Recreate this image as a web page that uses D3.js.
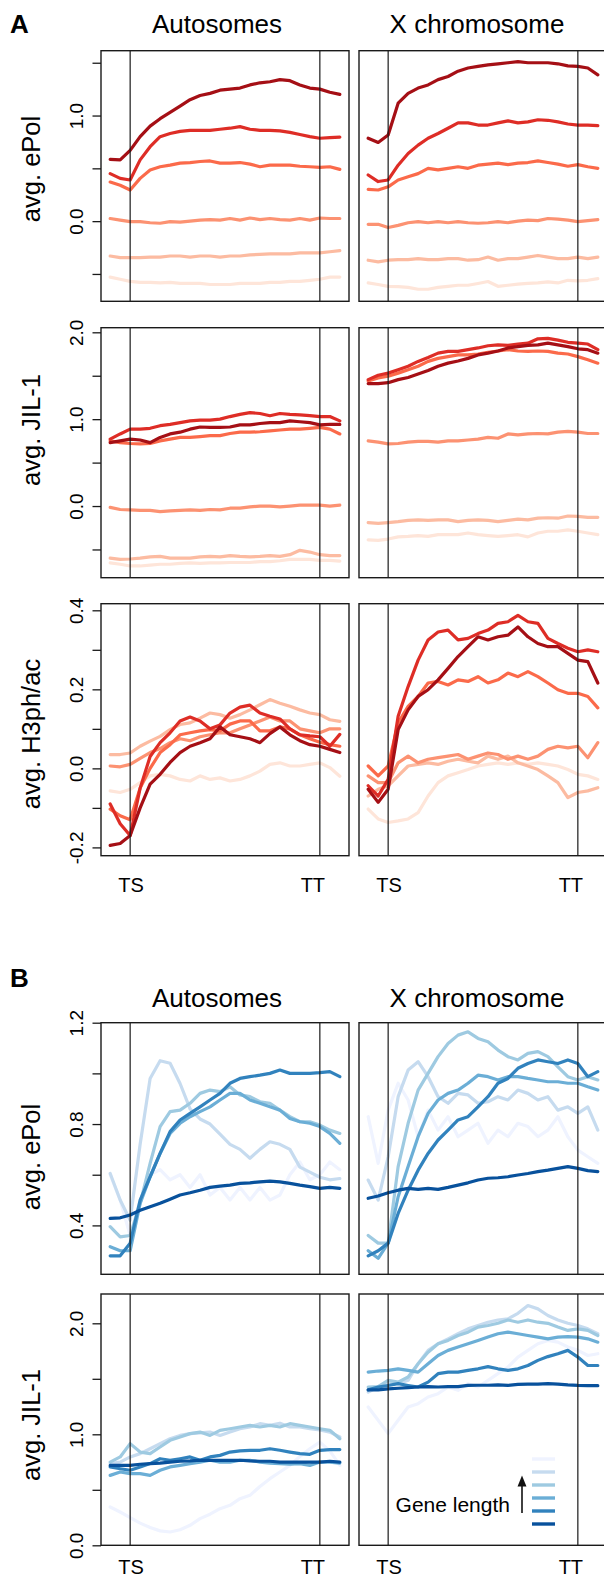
<!DOCTYPE html>
<html lang="en">
<head>
<meta charset="UTF-8">
<title>ePol / JIL-1 / H3ph-ac profiles</title>
<script src="https://cdn.jsdelivr.net/npm/d3@7"></script>
<style>
  body { margin: 0; background: #fff; }
  svg { display: block; font-family: "Liberation Sans", Arial, Helvetica, sans-serif; }
</style>
</head>
<body>
<div id="chart"></div>
<script>
// metagene bins: 0-1 upstream, 2 = TS, 21 = TT, 22-23 downstream
const bins = [0,1,2,3,4,5,6,7,8,9,10,11,12,13,14,15,16,17,18,19,20,21,22,23];
const tsBin = 2, ttBin = 21;

const reds  = ["#FEE5D9","#FCBBA1","#FC9272","#FB6A4A","#DE2D26","#A50F15"];
const blues = ["#EFF3FF","#C6DBEF","#9ECAE1","#6BAED6","#3182BD","#08519C"];

const columnTitles = ["Autosomes", "X chromosome"];

// ---- panel A: ePol (series ordered lightest -> darkest)
const ePolAutoA = [
  [-0.53,-0.55,-0.57,-0.58,-0.58,-0.585,-0.58,-0.59,-0.59,-0.59,-0.60,-0.60,-0.60,-0.59,-0.59,-0.59,-0.58,-0.58,-0.57,-0.57,-0.56,-0.55,-0.53,-0.53],
  [-0.33,-0.345,-0.345,-0.345,-0.34,-0.34,-0.33,-0.33,-0.34,-0.33,-0.33,-0.34,-0.33,-0.33,-0.32,-0.315,-0.31,-0.31,-0.31,-0.30,-0.30,-0.30,-0.29,-0.28],
  [0.025,0.01,-0.005,-0.005,-0.015,-0.02,-0.005,-0.01,0,0.01,0.015,0.01,0.025,0.01,0.03,0.015,0.025,0.015,0.01,0.025,0.01,0.03,0.025,0.025],
  [0.37,0.34,0.295,0.405,0.485,0.515,0.53,0.55,0.555,0.565,0.57,0.55,0.55,0.555,0.54,0.515,0.53,0.53,0.53,0.52,0.515,0.51,0.515,0.49],
  [0.45,0.405,0.39,0.58,0.705,0.80,0.83,0.85,0.86,0.86,0.86,0.87,0.88,0.895,0.87,0.86,0.86,0.855,0.84,0.82,0.80,0.785,0.79,0.795],
  [0.585,0.58,0.67,0.80,0.90,0.97,1.03,1.09,1.15,1.19,1.21,1.24,1.25,1.26,1.29,1.31,1.32,1.34,1.33,1.29,1.26,1.25,1.22,1.20]
];
const ePolXA = [
  [-0.585,-0.60,-0.617,-0.62,-0.627,-0.645,-0.645,-0.627,-0.617,-0.607,-0.607,-0.59,-0.572,-0.617,-0.607,-0.597,-0.59,-0.585,-0.575,-0.585,-0.56,-0.565,-0.56,-0.545],
  [-0.37,-0.385,-0.37,-0.365,-0.365,-0.355,-0.365,-0.365,-0.355,-0.355,-0.37,-0.365,-0.34,-0.37,-0.355,-0.355,-0.34,-0.325,-0.34,-0.355,-0.355,-0.34,-0.355,-0.34],
  [-0.03,-0.03,-0.06,-0.04,-0.015,-0.005,-0.015,-0.005,-0.015,-0.005,-0.015,-0.02,-0.015,-0.005,-0.015,0,0.01,0.005,0.025,0.02,0.01,-0.005,0.005,0.015],
  [0.30,0.295,0.325,0.39,0.42,0.45,0.50,0.485,0.50,0.515,0.50,0.53,0.54,0.55,0.535,0.55,0.555,0.57,0.555,0.54,0.52,0.535,0.515,0.50],
  [0.437,0.375,0.39,0.53,0.64,0.72,0.785,0.83,0.88,0.93,0.93,0.91,0.91,0.93,0.95,0.93,0.94,0.96,0.955,0.94,0.92,0.91,0.91,0.905],
  [0.785,0.745,0.815,1.117,1.21,1.26,1.29,1.34,1.37,1.42,1.45,1.465,1.48,1.49,1.50,1.51,1.50,1.50,1.50,1.49,1.47,1.465,1.45,1.385]
];

// ---- panel A: JIL-1
const jilAutoA = [
  [-0.655,-0.67,-0.69,-0.69,-0.68,-0.67,-0.67,-0.66,-0.655,-0.66,-0.655,-0.655,-0.65,-0.65,-0.65,-0.64,-0.64,-0.63,-0.615,-0.615,-0.615,-0.625,-0.625,-0.635],
  [-0.60,-0.615,-0.61,-0.60,-0.585,-0.58,-0.60,-0.60,-0.60,-0.585,-0.58,-0.585,-0.57,-0.58,-0.585,-0.58,-0.57,-0.58,-0.56,-0.51,-0.53,-0.56,-0.57,-0.57],
  [-0.015,-0.04,-0.045,-0.05,-0.05,-0.065,-0.055,-0.05,-0.045,-0.05,-0.04,-0.045,-0.025,-0.025,-0.01,0,0,-0.01,0,0.01,0.01,0.01,0,0.01],
  [0.75,0.73,0.72,0.715,0.72,0.75,0.77,0.79,0.79,0.80,0.81,0.81,0.835,0.85,0.85,0.855,0.865,0.875,0.885,0.885,0.895,0.905,0.885,0.83],
  [0.77,0.83,0.885,0.885,0.895,0.925,0.94,0.96,0.98,0.99,0.99,1.0,1.03,1.055,1.075,1.065,1.04,1.065,1.055,1.05,1.04,1.03,1.03,0.98],
  [0.73,0.75,0.77,0.76,0.73,0.79,0.83,0.85,0.885,0.91,0.905,0.905,0.91,0.935,0.935,0.95,0.96,0.96,0.98,0.97,0.96,0.935,0.94,0.94]
];
const jilXA = [
  [-0.39,-0.395,-0.38,-0.355,-0.35,-0.34,-0.35,-0.33,-0.33,-0.33,-0.31,-0.33,-0.34,-0.35,-0.34,-0.33,-0.355,-0.31,-0.29,-0.29,-0.275,-0.29,-0.31,-0.33],
  [-0.19,-0.2,-0.19,-0.18,-0.165,-0.16,-0.165,-0.16,-0.16,-0.18,-0.165,-0.16,-0.165,-0.18,-0.165,-0.15,-0.16,-0.14,-0.135,-0.14,-0.115,-0.12,-0.13,-0.13],
  [0.75,0.735,0.715,0.72,0.735,0.745,0.745,0.735,0.75,0.75,0.76,0.77,0.79,0.78,0.83,0.82,0.83,0.835,0.83,0.85,0.86,0.85,0.835,0.835],
  [1.44,1.475,1.495,1.53,1.57,1.61,1.665,1.70,1.72,1.74,1.74,1.75,1.77,1.785,1.80,1.785,1.78,1.785,1.78,1.76,1.75,1.72,1.685,1.645],
  [1.455,1.505,1.53,1.57,1.61,1.665,1.71,1.76,1.78,1.78,1.80,1.82,1.845,1.855,1.85,1.865,1.875,1.925,1.93,1.91,1.885,1.875,1.865,1.80],
  [1.41,1.41,1.42,1.455,1.48,1.52,1.56,1.61,1.645,1.67,1.70,1.74,1.76,1.785,1.82,1.835,1.85,1.855,1.875,1.855,1.835,1.81,1.80,1.76]
];

// ---- panel A: H3ph/ac
const h3AutoA = [
  [-0.057,-0.061,-0.053,-0.036,-0.019,-0.015,-0.019,-0.028,-0.032,-0.019,-0.028,-0.024,-0.032,-0.028,-0.019,-0.007,0.01,0.014,0.006,0.006,0.01,0.014,0.002,-0.02],
  [0.035,0.035,0.039,0.056,0.069,0.081,0.098,0.111,0.115,0.127,0.14,0.136,0.127,0.136,0.148,0.161,0.174,0.165,0.157,0.148,0.14,0.136,0.123,0.119],
  [0.006,0.004,0.01,0.025,0.04,0.05,0.065,0.075,0.07,0.08,0.085,0.09,0.09,0.1,0.11,0.12,0.13,0.12,0.12,0.1,0.095,0.09,0.1,0.1],
  [-0.103,-0.12,-0.13,-0.05,0.0,0.04,0.06,0.085,0.09,0.095,0.098,0.095,0.112,0.12,0.12,0.095,0.095,0.105,0.1,0.085,0.075,0.066,0.06,0.056],
  [-0.09,-0.14,-0.17,-0.05,0.03,0.065,0.09,0.12,0.13,0.12,0.1,0.11,0.14,0.155,0.16,0.14,0.132,0.125,0.1,0.085,0.082,0.08,0.056,0.086],
  [-0.195,-0.19,-0.17,-0.1,-0.04,-0.015,0.015,0.04,0.056,0.065,0.075,0.105,0.085,0.08,0.075,0.065,0.088,0.105,0.085,0.07,0.06,0.056,0.048,0.04]
];
const h3XA = [
  [-0.103,-0.128,-0.137,-0.133,-0.128,-0.112,-0.07,-0.036,-0.019,-0.011,-0.003,0.006,0.01,0.014,0.01,0.014,0.01,0.014,0.01,0.006,-0.003,-0.015,-0.019,-0.028],
  [-0.07,-0.053,-0.044,-0.019,0.006,0.01,0.014,0.01,0.018,0.023,0.018,0.014,0.031,0.023,0.031,0.014,0.006,-0.003,-0.019,-0.036,-0.074,-0.061,-0.057,-0.049],
  [-0.019,-0.036,-0.036,0.014,0.031,0.014,0.023,0.027,0.031,0.035,0.023,0.031,0.039,0.035,0.023,0.031,0.023,0.031,0.048,0.056,0.052,0.056,0.027,0.065],
  [0.006,-0.019,0.006,0.115,0.157,0.182,0.216,0.22,0.211,0.224,0.22,0.232,0.216,0.224,0.241,0.232,0.245,0.232,0.216,0.199,0.19,0.19,0.182,0.153],
  [-0.044,-0.07,-0.028,0.132,0.207,0.274,0.325,0.345,0.35,0.325,0.329,0.341,0.35,0.367,0.371,0.387,0.371,0.367,0.329,0.316,0.304,0.295,0.3,0.295],
  [-0.053,-0.086,-0.053,0.098,0.148,0.182,0.199,0.224,0.253,0.283,0.308,0.333,0.325,0.333,0.337,0.358,0.333,0.316,0.308,0.308,0.291,0.274,0.27,0.216]
];

// ---- panel B: ePol
const ePolAutoB = [
  [0.6,0.5,0.36,0.5,0.6,0.62,0.58,0.6,0.55,0.6,0.52,0.55,0.5,0.55,0.5,0.55,0.5,0.52,0.6,0.65,0.58,0.6,0.65,0.62],
  [0.605,0.5,0.42,0.72,0.98,1.05,1.04,0.96,0.86,0.82,0.8,0.76,0.72,0.7,0.665,0.7,0.73,0.72,0.7,0.63,0.61,0.59,0.58,0.585],
  [0.395,0.355,0.36,0.487,0.645,0.79,0.849,0.855,0.882,0.921,0.934,0.928,0.947,0.915,0.908,0.888,0.882,0.855,0.829,0.809,0.809,0.796,0.776,0.763],
  [0.316,0.30,0.30,0.487,0.592,0.684,0.763,0.803,0.829,0.849,0.868,0.895,0.921,0.921,0.895,0.882,0.868,0.855,0.822,0.809,0.803,0.79,0.763,0.724],
  [0.28,0.28,0.33,0.50,0.592,0.684,0.77,0.816,0.842,0.868,0.895,0.921,0.961,0.98,0.987,0.993,1.0,1.013,1.0,1.0,1.0,1.003,1.007,0.987],
  [0.428,0.43,0.441,0.46,0.474,0.487,0.503,0.52,0.529,0.539,0.55,0.555,0.559,0.566,0.568,0.572,0.575,0.572,0.566,0.559,0.553,0.546,0.55,0.546]
];
const ePolXB = [
  [0.829,0.645,0.855,0.961,0.895,0.75,0.855,0.776,0.829,0.75,0.776,0.803,0.724,0.776,0.75,0.803,0.79,0.75,0.776,0.829,0.75,0.697,0.671,0.645],
  [0.579,0.5,0.671,0.908,1.013,1.046,0.987,0.908,0.882,0.921,0.915,0.882,0.888,0.908,0.895,0.934,0.921,0.895,0.908,0.855,0.868,0.842,0.868,0.776],
  [0.36,0.33,0.33,0.632,0.803,0.934,1.0,1.066,1.118,1.151,1.164,1.138,1.125,1.092,1.066,1.053,1.079,1.086,1.066,1.026,0.987,0.974,0.987,0.974],
  [0.3,0.27,0.33,0.513,0.632,0.75,0.842,0.895,0.921,0.934,0.961,0.993,0.987,0.974,0.987,0.987,0.98,0.974,0.967,0.967,0.961,0.961,0.947,0.934],
  [0.28,0.3,0.33,0.447,0.539,0.618,0.684,0.737,0.776,0.816,0.829,0.868,0.908,0.961,0.98,1.02,1.039,1.053,1.046,1.039,1.053,1.039,0.987,1.007],
  [0.507,0.516,0.529,0.539,0.546,0.542,0.546,0.542,0.55,0.559,0.568,0.579,0.586,0.588,0.592,0.599,0.605,0.612,0.618,0.625,0.632,0.625,0.616,0.612]
];

// ---- panel B: JIL-1
const jilAutoB = [
  [0.345,0.3,0.25,0.2,0.16,0.13,0.12,0.14,0.18,0.24,0.28,0.33,0.36,0.42,0.45,0.53,0.6,0.66,0.72,0.8,0.87,0.93,0.85,0.72],
  [0.736,0.75,0.796,0.826,0.87,0.916,0.96,0.99,1.006,1.012,1.02,0.99,1.02,1.05,1.066,1.096,1.08,1.1,1.066,1.066,1.05,1.04,1.02,0.976],
  [0.75,0.796,0.916,0.84,0.826,0.886,0.946,0.976,1.006,1.02,0.99,1.036,1.05,1.066,1.08,1.066,1.08,1.066,1.096,1.08,1.066,1.05,1.036,0.96],
  [0.63,0.66,0.646,0.646,0.63,0.676,0.706,0.72,0.736,0.75,0.766,0.75,0.75,0.766,0.766,0.75,0.74,0.736,0.73,0.736,0.72,0.75,0.75,0.74],
  [0.706,0.69,0.676,0.706,0.736,0.78,0.766,0.78,0.796,0.766,0.796,0.81,0.84,0.85,0.856,0.856,0.87,0.856,0.84,0.826,0.82,0.856,0.862,0.862],
  [0.72,0.72,0.72,0.73,0.736,0.74,0.75,0.757,0.76,0.766,0.766,0.766,0.766,0.766,0.76,0.757,0.757,0.75,0.75,0.75,0.75,0.75,0.757,0.75]
];
const jilXB = [
  [1.246,1.126,1.006,1.126,1.246,1.276,1.336,1.366,1.426,1.396,1.456,1.426,1.486,1.546,1.606,1.696,1.756,1.816,1.846,1.83,1.786,1.756,1.71,1.726],
  [1.38,1.426,1.47,1.456,1.486,1.636,1.756,1.816,1.86,1.906,1.95,1.98,2.01,2.03,2.04,2.09,2.16,2.13,2.07,2.03,2.0,1.98,1.95,1.906],
  [1.426,1.43,1.486,1.47,1.516,1.636,1.74,1.816,1.846,1.89,1.92,1.966,1.98,2.0,2.03,2.01,2.03,2.01,2.0,1.966,1.936,1.95,1.936,1.89],
  [1.56,1.57,1.576,1.59,1.576,1.56,1.636,1.71,1.756,1.786,1.816,1.846,1.876,1.906,1.92,1.906,1.89,1.876,1.86,1.876,1.88,1.876,1.86,1.83],
  [1.40,1.426,1.44,1.456,1.44,1.426,1.47,1.546,1.56,1.56,1.576,1.59,1.61,1.59,1.576,1.59,1.62,1.666,1.70,1.726,1.756,1.696,1.62,1.62],
  [1.40,1.40,1.41,1.415,1.42,1.426,1.43,1.426,1.43,1.43,1.44,1.442,1.442,1.445,1.44,1.45,1.452,1.452,1.456,1.452,1.445,1.44,1.438,1.438]
];

// axis ticks and which of them carry a label
const ePolTicksA = [-0.5, 0, 0.5, 1, 1.5],        ePolLabelsA = [0, 1];
const jilTicksA  = [-0.5, 0, 0.5, 1, 1.5, 2],     jilLabelsA  = [0, 1, 2];
const h3Ticks    = [-0.2,-0.1,0,0.1,0.2,0.3,0.4], h3Labels    = [-0.2, 0, 0.2, 0.4];
const ePolTicksB = [0.4, 0.6, 0.8, 1.0, 1.2],     ePolLabelsB = [0.4, 0.8, 1.2];
const jilTicksB  = [0, 0.5, 1, 1.5, 2],           jilLabelsB  = [0, 1, 2];

// ---------------- layout
const width = 604, height = 1577;
const colX = [[101, 349], [359, 607]];
const rows = [
  { top: 50.7,  bottom: 301.3,  domain: [-0.759, 1.614], ticks: ePolTicksA, labels: ePolLabelsA, title: "avg. ePol",    titleY: 169,  data: [ePolAutoA, ePolXA], colors: reds },
  { top: 327.7, bottom: 577.7,  domain: [-0.825, 2.053], ticks: jilTicksA,  labels: jilLabelsA,  title: "avg. JIL-1",   titleY: 430,  data: [jilAutoA, jilXA],   colors: reds },
  { top: 603.7, bottom: 855.7,  domain: [-0.221, 0.4167],ticks: h3Ticks,    labels: h3Labels,    title: "avg. H3ph/ac", titleY: 734,  data: [h3AutoA, h3XA],     colors: reds, xlab: 891.7 },
  { top: 1022.7,bottom: 1274.3, domain: [0.207, 1.2],    ticks: ePolTicksB, labels: ePolLabelsB, title: "avg. ePol",    titleY: 1157, data: [ePolAutoB, ePolXB], colors: blues },
  { top: 1294,  bottom: 1545.3, domain: [0, 2.264],      ticks: jilTicksB,  labels: jilLabelsB,  title: "avg. JIL-1",   titleY: 1425, data: [jilAutoB, jilXB],   colors: blues, xlab: 1574 }
];

const svg = d3.select("#chart").append("svg")
  .attr("width", width)
  .attr("height", height)
  .attr("viewBox", [0, 0, width, height]);

const fmt = v => v.toFixed(1);

rows.forEach(row => {
  const y = d3.scaleLinear().domain(row.domain).range([row.bottom, row.top]);

  colX.forEach(([x0, x1], c) => {
    // R-style 4% padding around the data range
    const x = d3.scaleLinear().domain([-0.92, 23.92]).range([x0, x1]);
    const g = svg.append("g");

    const line = d3.line().x((d, i) => x(bins[i])).y(d => y(d));
    g.append("g")
      .attr("fill", "none")
      .attr("stroke-width", 3.2)
      .attr("stroke-linejoin", "round")
      .attr("stroke-linecap", "round")
      .selectAll("path")
      .data(row.data[c])
      .join("path")
        .attr("stroke", (d, i) => row.colors[i])
        .attr("d", line);

    // TS / TT markers
    g.selectAll("line.mark")
      .data([tsBin, ttBin])
      .join("line")
        .attr("class", "mark")
        .attr("x1", d => x(d)).attr("x2", d => x(d))
        .attr("y1", row.top).attr("y2", row.bottom)
        .attr("stroke", "#1a1a1a").attr("stroke-width", 1.2);

    g.append("rect")
      .attr("x", x0).attr("y", row.top)
      .attr("width", x1 - x0).attr("height", row.bottom - row.top)
      .attr("fill", "none").attr("stroke", "#1a1a1a").attr("stroke-width", 1.4);

    if (row.xlab) {
      g.selectAll("text.xl")
        .data([[tsBin, "TS", 1], [ttBin, "TT", -7]])
        .join("text")
          .attr("class", "xl")
          .attr("x", d => x(d[0]) + d[2])
          .attr("y", row.xlab)
          .attr("text-anchor", "middle")
          .attr("font-size", 20)
          .text(d => d[1]);
    }

    if (c === 0) {
      const ax = g.append("g")
        .attr("transform", `translate(${x0},0)`)
        .call(d3.axisLeft(y).tickValues(row.ticks).tickSize(8.5).tickSizeOuter(0)
          .tickFormat(d => row.labels.includes(d) ? fmt(d) : ""));
      ax.select(".domain").remove();
      ax.selectAll(".tick line").attr("stroke", "#1a1a1a").attr("stroke-width", 1.3);
      ax.selectAll(".tick text")
        .attr("fill", "#000")
        .attr("font-size", 19)
        .attr("font-family", "'Liberation Sans', Arial, sans-serif")
        .attr("text-anchor", "middle")
        .attr("x", 0).attr("dy", 0)
        .attr("transform", "translate(-18,0) rotate(-90)");

      svg.append("text")
        .attr("transform", `translate(40,${row.titleY}) rotate(-90)`)
        .attr("text-anchor", "middle")
        .attr("font-size", 25.5)
        .text(row.title);
    }
  });
});

// column titles and panel letters
[[32.5, "A"], [987, "B"]].forEach(([base, letter]) => {
  svg.append("text").attr("x", 10).attr("y", base).attr("font-size", 26)
    .attr("font-weight", "bold").text(letter);
});
[32.5, 1007].forEach(base => {
  svg.selectAll(null)
    .data(columnTitles)
    .join("text")
      .attr("x", (d, i) => [217, 477][i])
      .attr("y", base)
      .attr("text-anchor", "middle")
      .attr("font-size", 26)
      .text(d => d);
});

// gene length legend (lightest on top)
const legY = d3.scalePoint().domain(d3.range(blues.length)).range([1459, 1524]);
const leg = svg.append("g");
leg.selectAll("line")
  .data(blues)
  .join("line")
    .attr("x1", 532).attr("x2", 555)
    .attr("y1", (d, i) => legY(i)).attr("y2", (d, i) => legY(i))
    .attr("stroke", d => d).attr("stroke-width", 3.4);

svg.append("defs").append("marker")
  .attr("id", "arrow").attr("viewBox", "0 0 10 10")
  .attr("refX", 5).attr("refY", 5)
  .attr("markerWidth", 7).attr("markerHeight", 7)
  .attr("orient", "auto-start-reverse")
  .append("path").attr("d", "M0,1 L10,5 L0,9 Z").attr("fill", "#111");

leg.append("line")
  .attr("x1", 522).attr("x2", 522).attr("y1", 1513).attr("y2", 1481)
  .attr("stroke", "#111").attr("stroke-width", 1.6)
  .attr("marker-end", "url(#arrow)");

leg.append("text")
  .attr("x", 510).attr("y", 1512)
  .attr("text-anchor", "end")
  .attr("font-size", 21)
  .text("Gene length");
</script>
</body>
</html>
